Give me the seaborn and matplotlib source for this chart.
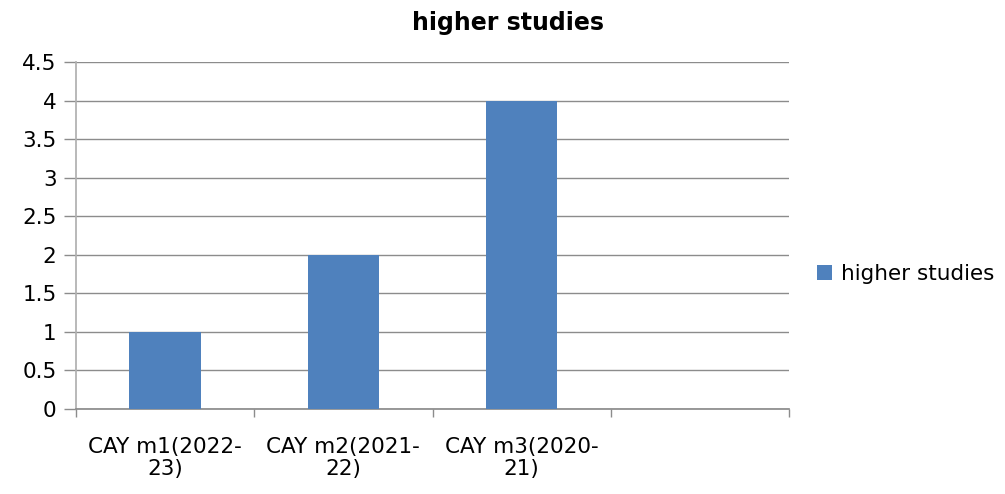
import numpy as np
import pandas as pd
import matplotlib
matplotlib.use("Agg")
import matplotlib.pyplot as plt
import seaborn as sns

# ── Data ──────────────────────────────────────────────────────────────────────
categories = ["CAY m1(2022-\n23)", "CAY m2(2021-\n22)", "CAY m3(2020-\n21)"]
values = [1, 2, 4]
slots = categories + [" "]          # empty fourth slot, as in the source chart
series_name = "higher studies"
y_ticks = [0, 0.5, 1, 1.5, 2, 2.5, 3, 3.5, 4, 4.5]
y_labels = ["0", "0.5", "1", "1.5", "2", "2.5", "3", "3.5", "4", "4.5"]

sns.set_theme(style="white")
plt.rcParams["font.family"] = ["DejaVu Sans"]
plt.rcParams["text.color"] = "black"
plt.rcParams["xtick.color"] = "black"
plt.rcParams["ytick.color"] = "black"

df = pd.DataFrame({"category": categories, "value": values, "series": series_name})

fig = plt.figure(figsize=(10.05, 4.94), dpi=100)
ax = fig.add_axes([0.0756, 0.172, 0.7095, 0.7025])

grid_c = "#8c8c8c"
sns.barplot(data=df, x="category", y="value", hue="series", order=slots,
            palette=["#4F81BD"], width=0.4, saturation=1, linewidth=0,
            ax=ax, zorder=3)

ax.set_xlim(-0.5, 3.5)
ax.set_ylim(0, 4.5)
ax.set_yticks(y_ticks)
ax.set_yticklabels(y_labels, fontsize=15.5)
ax.yaxis.grid(True, color=grid_c, linewidth=1)
ax.set_axisbelow(True)
ax.tick_params(axis="y", length=9, color=grid_c, width=1, pad=5, left=True)

# category labels at centres, tick marks at slot boundaries
ax.set_xticks(range(4))
ax.set_xticklabels(slots, fontsize=15.5, linespacing=1.15)
ax.tick_params(axis="x", length=0, pad=20)
ax.set_xticks(np.arange(-0.5, 4, 1), minor=True)
ax.tick_params(axis="x", which="minor", length=6, color=grid_c, width=1, bottom=True)

for side in ["top", "right"]:
    ax.spines[side].set_visible(False)
ax.spines["left"].set_color("#b0b0b0")
ax.spines["bottom"].set_color(grid_c)
ax.set_xlabel("")
ax.set_ylabel("")

fig.text(0.505, 0.953, "higher studies", ha="center", va="center",
         fontsize=17, fontweight="bold")

leg = ax.legend(loc="center left", bbox_to_anchor=(1.012, 0.39), frameon=False,
                fontsize=15.5, handlelength=0.7, handleheight=0.7, handletextpad=0.4)

fig.savefig("out.png", dpi=100)
